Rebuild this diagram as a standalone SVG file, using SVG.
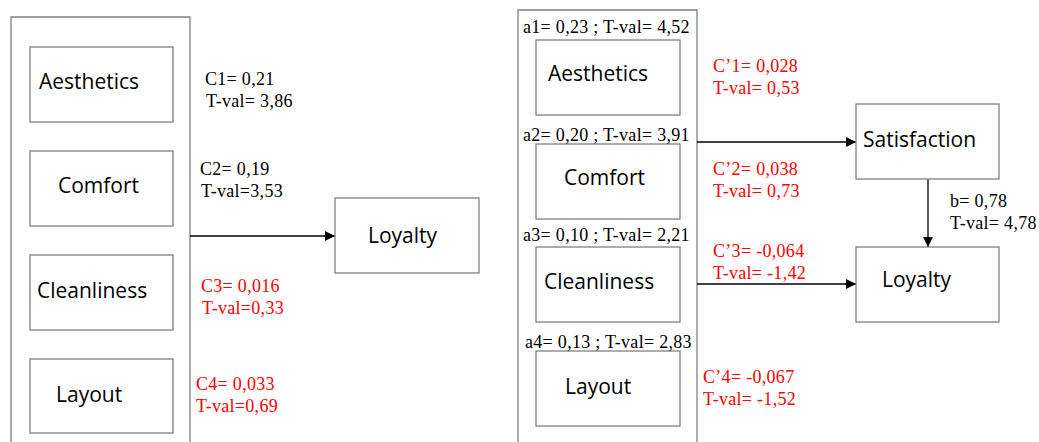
<svg xmlns="http://www.w3.org/2000/svg" width="1039" height="442" viewBox="0 0 1039 442">
<style>
.frame{fill:none;stroke:#808080;stroke-width:1.3}
.box{fill:#fff;stroke:#808080;stroke-width:1.3}
.lbl{font-family:"Open Sans","Liberation Sans",sans-serif;font-size:21px;fill:#000}
.v{font-family:"Liberation Serif",serif;font-size:18px;letter-spacing:0.3px;fill:#000}
.r{fill:#ff0000}
.conn{stroke:#000;stroke-width:1.3;fill:none;marker-end:url(#ah)}
</style>
<defs>
<marker id="ah" viewBox="0 0 10 10" refX="10" refY="5" markerWidth="10" markerHeight="10" markerUnits="userSpaceOnUse" orient="auto">
<path d="M0,0 L10,5 L0,10 z" fill="#000"/>
</marker>
</defs>
<rect width="1039" height="442" fill="#fff"/>
<g id="left-panel">
<path class="frame" d="M11,445 V17 H190 V445"/>
</g>
<g id="right-panel">
<path class="frame" d="M518,445 V10 H697 V445"/>
</g>
<g id="connectors">
<line class="conn" x1="190" y1="236" x2="335" y2="236"/>
<line class="conn" x1="697" y1="142" x2="856" y2="142"/>
<line class="conn" x1="697" y1="284" x2="856" y2="284"/>
<line class="conn" x1="928" y1="179" x2="928" y2="247"/>
</g>
<g id="l-aesthetics"><rect class="box" x="30" y="47" width="143" height="75"/><text class="lbl" x="39" y="89">Aesthetics</text></g>
<g id="l-comfort"><rect class="box" x="30" y="151" width="143" height="75"/><text class="lbl" x="58" y="193">Comfort</text></g>
<g id="l-cleanliness"><rect class="box" x="30" y="255" width="143" height="75"/><text class="lbl" x="37" y="298">Cleanliness</text></g>
<g id="l-layout"><rect class="box" x="30" y="359" width="143" height="74"/><text class="lbl" x="56" y="402">Layout</text></g>
<g id="l-loyalty"><rect class="box" x="335" y="198" width="144" height="75"/><text class="lbl" x="368" y="243">Loyalty</text></g>
<g id="r-aesthetics"><rect class="box" x="536" y="40" width="144" height="75"/><text class="lbl" x="548" y="81">Aesthetics</text></g>
<g id="r-comfort"><rect class="box" x="536" y="144" width="144" height="75"/><text class="lbl" x="564" y="185">Comfort</text></g>
<g id="r-cleanliness"><rect class="box" x="536" y="247" width="144" height="75"/><text class="lbl" x="544" y="289">Cleanliness</text></g>
<g id="r-layout"><rect class="box" x="536" y="351" width="144" height="75"/><text class="lbl" x="565" y="394">Layout</text></g>
<g id="satisfaction"><rect class="box" x="856" y="104" width="143" height="75"/><text class="lbl" x="863" y="147">Satisfaction</text></g>
<g id="r-loyalty"><rect class="box" x="856" y="247" width="143" height="75"/><text class="lbl" x="882" y="287">Loyalty</text></g>
<g id="labels">
<text class="v" x="205" y="85">C1= 0,21</text>
<text class="v" x="206" y="107">T-val= 3,86</text>
<text class="v" x="200" y="175">C2= 0,19</text>
<text class="v" x="201" y="197">T-val=3,53</text>
<text class="v r" x="201" y="292">C3= 0,016</text>
<text class="v r" x="202" y="314">T-val=0,33</text>
<text class="v r" x="196" y="390">C4= 0,033</text>
<text class="v r" x="196" y="412">T-val=0,69</text>
<text class="v" x="523" y="33">a1= 0,23 ; T-val= 4,52</text>
<text class="v" x="523" y="141">a2= 0,20 ; T-val= 3,91</text>
<text class="v" x="523" y="241">a3= 0,10 ; T-val= 2,21</text>
<text class="v" x="525" y="348">a4= 0,13 ; T-val= 2,83</text>
<text class="v r" x="713" y="72">C’1= 0,028</text>
<text class="v r" x="713" y="94">T-val= 0,53</text>
<text class="v r" x="713" y="175">C’2= 0,038</text>
<text class="v r" x="713" y="197">T-val= 0,73</text>
<text class="v r" x="713" y="257">C’3= -0,064</text>
<text class="v r" x="713" y="279">T-val= -1,42</text>
<text class="v r" x="703" y="383">C’4= -0,067</text>
<text class="v r" x="703" y="405">T-val= -1,52</text>
<text class="v" x="950" y="207">b= 0,78</text>
<text class="v" x="950" y="229">T-val= 4,78</text>
</g>
</svg>
